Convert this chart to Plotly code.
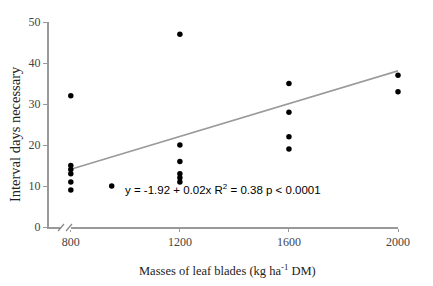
import plotly.graph_objects as go

mass_800 = [800, 800, 800, 800, 800, 800]
days_800 = [32, 15, 14, 13, 11, 9]
mass_other = [950, 1200, 1200, 1200, 1200, 1200, 1200, 1600, 1600, 1600, 1600, 2000, 2000]
days_other = [10, 47, 20, 16, 13, 12, 11, 35, 28, 22, 19, 37, 33]
intercept = -1.92
slope = 0.02
line_x = [800, 2000]
x_ticks = [800, 1200, 1600, 2000]
y_ticks = [0, 10, 20, 30, 40, 50]

xs = mass_800 + mass_other
ys = days_800 + days_other
line_y = [intercept + slope * v for v in line_x]

# page has an 8px body margin; compensate so screen geometry matches
OFF = 8
W, H = 433 - OFF, 286 - OFF
# screen-pixel plot box: left 49, right 398, top 22, bottom 227
SL, SR, ST, SB = 49, 398, 22, 227
L, T = SL - OFF, ST - OFF
R, B = W - (SR - OFF), H - (SB - OFF)
pw, ph = SR - SL, SB - ST

def px(x):
    return (x - SL) / pw

def py(y):
    return (SB - y) / ph

fig = go.Figure()
fig.add_trace(go.Scatter(x=line_x, y=line_y, mode="lines",
                         line=dict(color="#9a9a9a", width=1.6), hoverinfo="skip"))
fig.add_trace(go.Scatter(x=xs, y=ys, mode="markers",
                         marker=dict(color="black", size=5.5), cliponaxis=False))

serif = "Liberation Serif, DejaVu Serif, serif"
axis_font = dict(family=serif, size=12, color="#444")
fig.update_layout(
    width=W, height=H,
    margin=dict(l=L, r=R, t=T, b=B),
    paper_bgcolor="white", plot_bgcolor="white",
    showlegend=False,
    xaxis=dict(range=[720, 2000], tickvals=x_ticks, ticktext=[str(v) for v in x_ticks],
               automargin=False,
               showgrid=False, zeroline=False, showline=True, linecolor="#999", linewidth=2,
               ticks="outside", ticklen=3, tickcolor="#999", tickfont=axis_font),
    yaxis=dict(range=[0, 50], tickvals=y_ticks, showgrid=False, zeroline=False,
               automargin=False,
               showline=True, linecolor="#999", linewidth=2,
               ticks="outside", ticklen=4, tickcolor="#999", tickfont=axis_font),
    annotations=[
        dict(text="y = -1.92 + 0.02x R<sup>2</sup> = 0.38 p < 0.0001",
             xref="paper", yref="paper", x=px(123), y=py(189),
             xanchor="left", yanchor="middle", showarrow=False,
             font=dict(family="Liberation Sans, Arial, sans-serif", size=11.5, color="black")),
        dict(text="Masses of leaf blades (kg ha<sup>-1</sup> DM)",
             xref="paper", yref="paper", x=px(227.5), y=py(270),
             xanchor="center", yanchor="middle", showarrow=False,
             font=dict(family=serif, size=12.5, color="#222")),
        dict(text="Interval days necessary", textangle=-90,
             xref="paper", yref="paper", x=px(15), y=py(134),
             xanchor="center", yanchor="middle", showarrow=False,
             font=dict(family=serif, size=14.5, color="#222")),
    ],
    shapes=[
        dict(type="rect", xref="paper", yref="paper", x0=px(61), x1=px(71), y0=py(225), y1=py(230),
             fillcolor="white", line=dict(width=0), layer="above"),
        dict(type="line", xref="paper", yref="paper", x0=px(58), x1=px(64), y0=py(231), y1=py(224),
             line=dict(color="#888", width=1.2)),
        dict(type="line", xref="paper", yref="paper", x0=px(66), x1=px(72), y0=py(231), y1=py(224),
             line=dict(color="#888", width=1.2)),
    ],
)

fig.write_html("out.html")
